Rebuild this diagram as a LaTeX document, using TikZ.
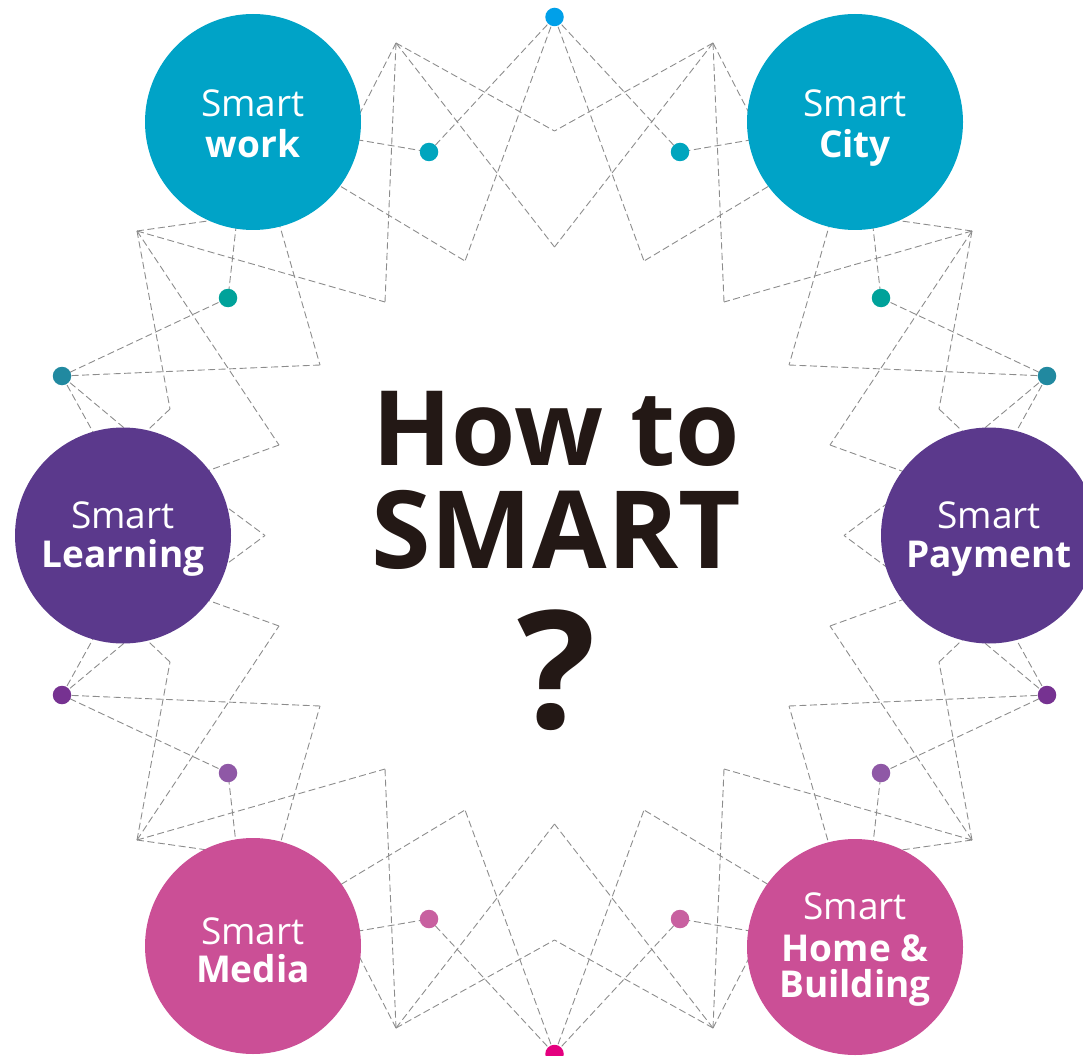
\documentclass[tikz,border=0pt]{standalone}
\usepackage{fontspec}
\setmainfont{Open Sans}
\definecolor{cBlue}{RGB}{0,163,199}
\definecolor{cPurple}{RGB}{91,57,140}
\definecolor{cPink}{RGB}{203,79,150}
\definecolor{dTop}{RGB}{0,160,233}
\definecolor{dTealA}{RGB}{0,165,190}
\definecolor{dGreen}{RGB}{0,162,154}
\definecolor{dTealB}{RGB}{33,137,160}
\definecolor{dPurple}{RGB}{118,50,145}
\definecolor{dLilac}{RGB}{143,88,166}
\definecolor{dPinkdot}{RGB}{200,96,160}
\definecolor{dMagenta}{RGB}{228,0,127}
\definecolor{lineGray}{RGB}{140,140,140}
\definecolor{txtDark}{RGB}{35,24,21}
\begin{document}
\begin{tikzpicture}[x=1pt,y=-1pt,
  link/.style={draw=lineGray, line width=0.9pt, dash pattern=on 7pt off 3.5pt},
  bigcirc/.style={circle, minimum size=216pt, inner sep=0pt},
  dotnode/.style={circle, minimum size=18.5pt, inner sep=0pt},
  smartlbl/.style={anchor=base, text=white, font=\fontsize{37}{40}\selectfont},
  boldlbl/.style={anchor=base, text=white, font=\bfseries\fontsize{37}{40}\selectfont},
  centerlbl/.style={anchor=base, text=txtDark, font=\bfseries\fontsize{108}{110}\selectfont},
]
\useasboundingbox (0,0) rectangle (1083,1056);

% dashed network, one quadrant mirrored four times
\foreach \sx/\sy/\q in {1/1/a, -1/1/b, 1/-1/c, -1/-1/d}{
 \begin{scope}[shift={(554.5,535.5)}, xscale=\sx, yscale=\sy]
  \coordinate (T-\q) at (0,-518.5);
  \coordinate (M1-\q) at (0,-404.5);
  \coordinate (M2-\q) at (0,-288.5);
  \coordinate (A-\q) at (-158.5,-492.5);
  \coordinate (C-\q) at (-89.5,-274.5);
  \coordinate (E-\q) at (-169.5,-233.5);
  \coordinate (D1-\q) at (-125.5,-383.5);
  \coordinate (G-\q) at (-417.5,-304.5);
  \coordinate (H-\q) at (-384.5,-126.5);
  \coordinate (I-\q) at (-275.5,-90.5);
  \coordinate (J-\q) at (-234.5,-170.5);
  \coordinate (D2-\q) at (-326.5,-237.5);
  \coordinate (D3-\q) at (-492.5,-159.5);
  \coordinate (K-\q) at (-289.5,0);
  \coordinate (P6-\q) at (-230.5,-352.5);
  \coordinate (P7-\q) at (-301.5,-413.5);
  \coordinate (P8-\q) at (-294.5,-397.5);
  \coordinate (P10-\q) at (-304.5,-320.5);
  \coordinate (P15-\q) at (-307.5,-405.5);
  \coordinate (P16-\q) at (-299.5,-395.5);
  \coordinate (P13-\q) at (-461.5,-53.5);
  \coordinate (P14-\q) at (-413.5,-40.5);
  \coordinate (P19-\q) at (-430.5,-47.5);
  \coordinate (P20-\q) at (-395.5,-78.5);
  \coordinate (P21-\q) at (-384.5,-70.5);
  \draw[link] (T-\q) -- (D1-\q);
  \draw[link] (T-\q) -- (C-\q);
  \draw[link] (A-\q) -- (M1-\q);
  \draw[link] (A-\q) -- (M2-\q);
  \draw[link] (A-\q) -- (E-\q);
  \draw[link] (A-\q) -- (P6-\q);
  \draw[link] (P7-\q) -- (D1-\q);
  \draw[link] (P8-\q) -- (C-\q);
  \draw[link] (G-\q) -- (E-\q);
  \draw[link] (G-\q) -- (P10-\q);
  \draw[link] (G-\q) -- (H-\q);
  \draw[link] (G-\q) -- (I-\q);
  \draw[link] (H-\q) -- (P13-\q);
  \draw[link] (I-\q) -- (P14-\q);
  \draw[link] (P15-\q) -- (D2-\q);
  \draw[link] (P16-\q) -- (J-\q);
  \draw[link] (J-\q) -- (D3-\q);
  \draw[link] (D2-\q) -- (D3-\q);
  \draw[link] (D3-\q) -- (P19-\q);
  \draw[link] (D3-\q) -- (P20-\q);
  \draw[link] (P21-\q) -- (K-\q);
 \end{scope}
}

% big circles
\node[bigcirc, fill=cBlue] (work) at (253,122) {};
\node[bigcirc, fill=cBlue] (city) at (855,122) {};
\node[bigcirc, fill=cPurple] (learning) at (123,535.5) {};
\node[bigcirc, fill=cPurple] (payment) at (989,535.5) {};
\node[bigcirc, fill=cPink] (media) at (253,946) {};
\node[bigcirc, fill=cPink] (home) at (855,947) {};

% dots
\node[dotnode, fill=dTop] (dotTop) at (T-a) {};
\node[dotnode, fill=dMagenta] (dotBottom) at (T-c) {};
\node[dotnode, fill=dTealA] (dotWa) at (D1-a) {};
\node[dotnode, fill=dTealA] (dotWb) at (D1-b) {};
\node[dotnode, fill=dGreen] (dotGa) at (D2-a) {};
\node[dotnode, fill=dGreen] (dotGb) at (D2-b) {};
\node[dotnode, fill=dTealB] (dotTa) at (D3-a) {};
\node[dotnode, fill=dTealB] (dotTb) at (D3-b) {};
\node[dotnode, fill=dPurple] (dotPa) at (D3-c) {};
\node[dotnode, fill=dPurple] (dotPb) at (D3-d) {};
\node[dotnode, fill=dLilac] (dotLa) at (D2-c) {};
\node[dotnode, fill=dLilac] (dotLb) at (D2-d) {};
\node[dotnode, fill=dPinkdot] (dotKa) at (D1-c) {};
\node[dotnode, fill=dPinkdot] (dotKb) at (D1-d) {};

% circle labels
\node[smartlbl] (workA) at (253,117) {Smart};
\node[boldlbl] (workB) at (253,158) {work};
\node[smartlbl] (cityA) at (855,117) {Smart};
\node[boldlbl] (cityB) at (855,158) {City};
\node[smartlbl] (learnA) at (123,528) {Smart};
\node[boldlbl] (learnB) at (123,567) {Learning};
\node[smartlbl] (payA) at (989,528) {Smart};
\node[boldlbl] (payB) at (989,567) {Payment};
\node[smartlbl] (mediaA) at (253,944) {Smart};
\node[boldlbl] (mediaB) at (253,982) {Media};
\node[smartlbl] (homeA) at (855,919) {Smart};
\node[boldlbl] (homeB) at (855,961) {Home \&};
\node[boldlbl] (homeC) at (855,997) {Building};

% central title
\node[centerlbl, font=\bfseries\fontsize{104}{106}\selectfont] (how) at (556,465) {How to};
\node[centerlbl] (smart) at (556,568) {SMART};
\node[anchor=base, text=txtDark, font=\bfseries\fontsize{164}{166}\selectfont] (quest) at (557,728) {?};
\end{tikzpicture}
\end{document}
